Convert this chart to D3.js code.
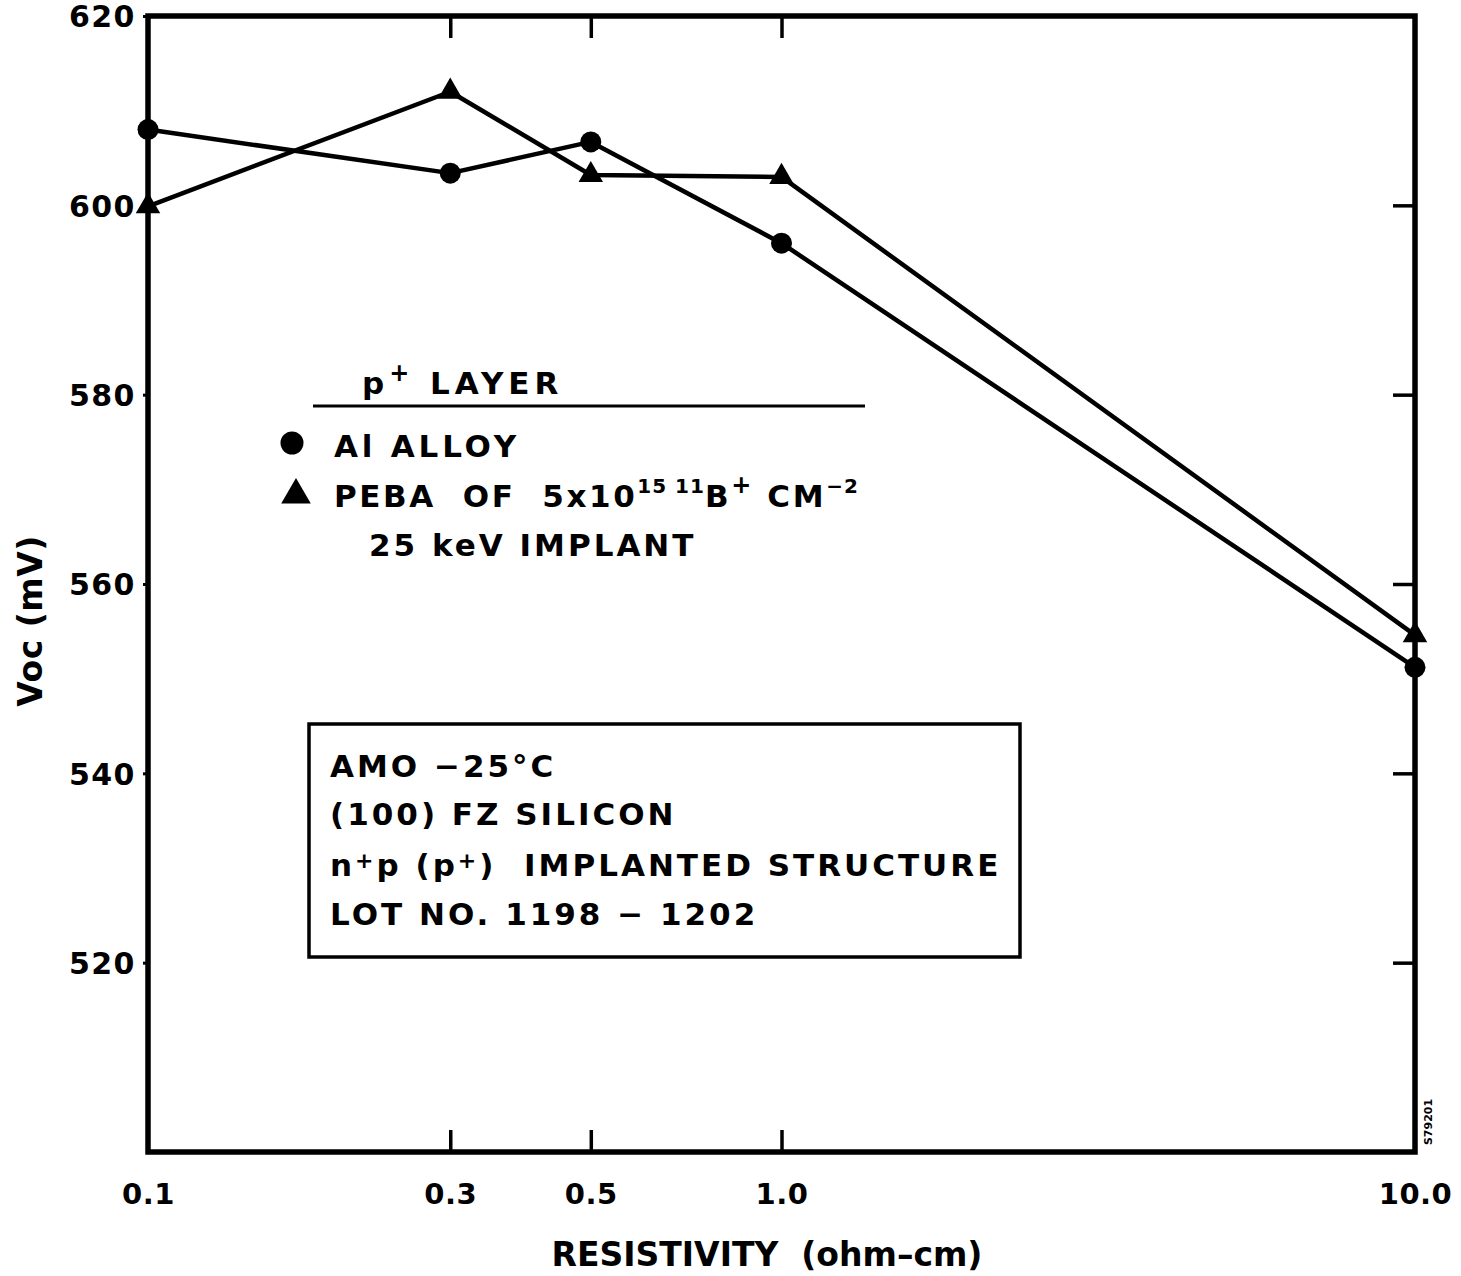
<!DOCTYPE html>
<html>
<head>
<meta charset="utf-8">
<script src="https://cdn.jsdelivr.net/npm/d3@7/dist/d3.min.js"></script>
<style>
  html, body { margin: 0; padding: 0; background: #fff; }
  svg { display: block; }
  text { font-family: "DejaVu Sans", sans-serif; fill: #000; font-weight: bold; white-space: pre; }
</style>
</head>
<body>
<svg id="chart" width="1461" height="1276"></svg>
<script>
// Open-circuit voltage vs. base resistivity for two p+ layer processes
const resistivity = [0.1, 0.3, 0.5, 1.0, 10.0];
const alAlloyVoc = [608.0, 603.4, 606.7, 596.0, 551.2];
const pebaVoc = [599.9, 612.0, 603.2, 603.0, 554.6];

const xTickValues = [0.1, 0.3, 0.5, 1.0, 10.0];
const xTickLabels = ["0.1", "0.3", "0.5", "1.0", "10.0"];
const xInnerTicks = [0.3, 0.5, 1.0];
const yTickValues = [520, 540, 560, 580, 600, 620];
const yRightTicks = [520, 540, 560, 580, 600];

const svg = d3.select("#chart");
svg.append("rect").attr("width", 1461).attr("height", 1276).attr("fill", "#fff");

const plotL = 148, plotR = 1415, plotT = 16, plotB = 1152;
const x = d3.scaleLog().domain([0.1, 10]).range([plotL, plotR]);
const y = d3.scaleLinear().domain([500, 620]).range([plotB, plotT]);

const INK = "#000";
const TXT = 31;

// Inward ticks on top, bottom and right edges
const g = svg.append("g");
g.append("g")
  .attr("transform", `translate(0,${plotB})`)
  .call(d3.axisBottom(x).tickValues(xInnerTicks).tickSize(-22).tickFormat(""))
  .call(a => a.select(".domain").remove())
  .call(a => a.selectAll("line").attr("stroke", INK).attr("stroke-width", 3.5));
g.append("g")
  .attr("transform", `translate(0,${plotT})`)
  .call(d3.axisTop(x).tickValues(xInnerTicks).tickSize(-22).tickFormat(""))
  .call(a => a.select(".domain").remove())
  .call(a => a.selectAll("line").attr("stroke", INK).attr("stroke-width", 3.5));
g.append("g")
  .attr("transform", `translate(${plotR},0)`)
  .call(d3.axisRight(y).tickValues(yRightTicks).tickSize(-22).tickFormat(""))
  .call(a => a.select(".domain").remove())
  .call(a => a.selectAll("line").attr("stroke", INK).attr("stroke-width", 3.5));

// X tick labels
g.append("g")
  .attr("transform", `translate(0,${plotB})`)
  .call(d3.axisBottom(x).tickValues(xTickValues).tickSize(0).tickPadding(52)
        .tickFormat((d, i) => xTickLabels[i]))
  .call(a => a.select(".domain").remove())
  .call(a => a.selectAll("text")
        .attr("font-size", 29).attr("letter-spacing", 0.5)
        .attr("dy", 0).attr("font-family", "DejaVu Sans"));

// Y tick labels with short outer ticks
g.append("g")
  .attr("transform", `translate(${plotL},0)`)
  .call(d3.axisLeft(y).tickValues(yTickValues).tickSize(5).tickPadding(7)
        .tickFormat(d3.format("d")))
  .call(a => a.select(".domain").remove())
  .call(a => a.selectAll("line").attr("stroke", INK).attr("stroke-width", 3))
  .call(a => a.selectAll("text")
        .attr("font-size", 30).attr("letter-spacing", 1.5)
        .attr("dy", "0.36em").attr("font-family", "DejaVu Sans"));

// Plot frame
svg.append("rect")
  .attr("x", plotL).attr("y", plotT)
  .attr("width", plotR - plotL).attr("height", plotB - plotT)
  .attr("fill", "none").attr("stroke", INK).attr("stroke-width", 5.5);

// Series lines
const line = d3.line().x(d => x(d[0])).y(d => y(d[1]));
const alPts = resistivity.map((r, i) => [r, alAlloyVoc[i]]);
const pebaPts = resistivity.map((r, i) => [r, pebaVoc[i]]);

svg.append("path").datum(alPts).attr("d", line)
  .attr("fill", "none").attr("stroke", INK).attr("stroke-width", 4.5)
  .attr("stroke-linejoin", "round");
svg.append("path").datum(pebaPts).attr("d", line)
  .attr("fill", "none").attr("stroke", INK).attr("stroke-width", 4.5)
  .attr("stroke-linejoin", "round");

// Markers
const triSym = d3.symbol().type(d3.symbolTriangle).size(260);
svg.append("g").selectAll("circle").data(alPts).join("circle")
  .attr("cx", d => x(d[0])).attr("cy", d => y(d[1])).attr("r", 10.5).attr("fill", INK);
svg.append("g").selectAll("path").data(pebaPts).join("path")
  .attr("d", triSym)
  .attr("transform", d => `translate(${x(d[0])},${y(d[1])})`)
  .attr("fill", INK);

// Axis titles
svg.append("text")
  .attr("x", 767).attr("y", 1266)
  .attr("text-anchor", "middle")
  .attr("font-size", 33).attr("letter-spacing", 0)
  .text("RESISTIVITY  (ohm\u2013cm)");

svg.append("text")
  .attr("transform", "translate(42,621) rotate(-90)")
  .attr("text-anchor", "middle")
  .attr("font-size", 33).attr("letter-spacing", 0.5)
  .text("Voc (mV)");

// Legend
const legend = svg.append("g");
legend.append("text").attr("x", 362).attr("y", 394)
  .attr("font-size", TXT).attr("letter-spacing", 5)
  .call(t => {
    t.append("tspan").text("p");
    t.append("tspan").attr("dy", -13).attr("font-size", 24).text("+");
    t.append("tspan").attr("dy", 13).text(" LAYER");
  });
legend.append("line").attr("x1", 313).attr("x2", 865).attr("y1", 406).attr("y2", 406)
  .attr("stroke", INK).attr("stroke-width", 3);

legend.append("circle").attr("cx", 292).attr("cy", 443).attr("r", 11.5).attr("fill", INK);
legend.append("text").attr("x", 334).attr("y", 457)
  .attr("font-size", TXT).attr("letter-spacing", 3.8)
  .text("Al ALLOY");

legend.append("path").attr("d", d3.symbol().type(d3.symbolTriangle).size(380))
  .attr("transform", "translate(296,495)").attr("fill", INK);
legend.append("text").attr("x", 334).attr("y", 507)
  .attr("font-size", TXT).attr("letter-spacing", 2.6)
  .call(t => {
    t.append("tspan").text("PEBA  OF  5x10");
    t.append("tspan").attr("dy", -14).attr("font-size", 20).attr("letter-spacing", 1).text("15 11");
    t.append("tspan").attr("dy", 14).text("B");
    t.append("tspan").attr("dy", -14).attr("font-size", 24).text("+");
    t.append("tspan").attr("dy", 14).text(" CM");
    t.append("tspan").attr("dy", -14).attr("font-size", 20).attr("letter-spacing", 1).text("\u22122");
  });
legend.append("text").attr("x", 369).attr("y", 556)
  .attr("font-size", TXT).attr("letter-spacing", 3)
  .text("25 keV IMPLANT");

// Conditions box
svg.append("rect").attr("x", 309).attr("y", 724).attr("width", 711).attr("height", 233)
  .attr("fill", "none").attr("stroke", INK).attr("stroke-width", 3.5);
const boxLines = [
  ["AMO \u221225\u00b0C", 777],
  ["(100) FZ SILICON", 825],
  [null, 876],
  ["LOT NO. 1198 \u2212 1202", 925]
];
boxLines.forEach(([s, yy]) => {
  const t = svg.append("text").attr("x", 330).attr("y", yy)
    .attr("font-size", TXT).attr("letter-spacing", 3);
  if (s) t.text(s);
  else {
    t.append("tspan").text("n");
    t.append("tspan").attr("dy", -8).attr("font-size", 22).text("+");
    t.append("tspan").attr("dy", 8).text("p (p");
    t.append("tspan").attr("dy", -8).attr("font-size", 22).text("+");
    t.append("tspan").attr("dy", 8).text(")  IMPLANTED STRUCTURE");
  }
});

// Drawing reference number
svg.append("text")
  .attr("transform", "translate(1432,1122) rotate(-90)")
  .attr("text-anchor", "middle")
  .attr("font-size", 11)
  .text("S79201");
</script>
</body>
</html>
